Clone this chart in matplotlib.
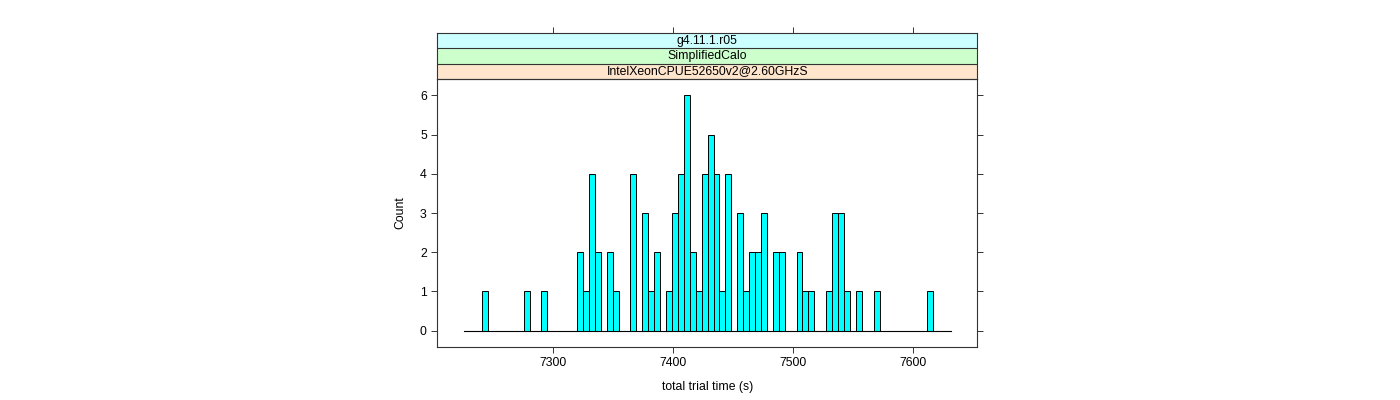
import matplotlib
matplotlib.use("Agg")
import matplotlib.pyplot as plt
import numpy as np

# histogram bins (seconds) and counts
bin_start = 7226.5
bin_width = 4.934
counts = [0, 0, 0, 1, 0, 0, 0, 0, 0, 0,
          1, 0, 0, 1, 0, 0, 0, 0, 0, 2,
          1, 4, 2, 0, 2, 1, 0, 0, 4, 0,
          3, 1, 2, 0, 1, 3, 4, 6, 2, 1,
          4, 5, 4, 1, 4, 0, 3, 1, 2, 2,
          3, 0, 2, 2, 0, 0, 2, 1, 1, 0,
          0, 1, 3, 3, 1, 0, 1, 0, 0, 1,
          0, 0, 0, 0, 0, 0, 0, 0, 1, 0,
          0, 0]
x_ticks = [7300, 7400, 7500, 7600]
y_ticks = [0, 1, 2, 3, 4, 5, 6]
strip_labels = ["IntelXeonCPUE52650v2@2.60GHzS", "SimplifiedCalo", "g4.11.1.r05"]
strip_colors = ["#FFE5CC", "#CCFFCC", "#CCFFFF"]

plt.rcParams["font.family"] = ["Liberation Sans", "DejaVu Sans"]
plt.rcParams["font.size"] = 8.8

edges = bin_start + bin_width * np.arange(len(counts) + 1)
xlim = (7203.9, 7653.2)

fig = plt.figure(figsize=(14, 4), dpi=100)
ax = fig.add_axes([0.3123, 0.1325, 0.3858, 0.67])

ax.bar(edges[:-1], counts, width=bin_width, align="edge",
       color="#00FFFF", edgecolor="black", linewidth=0.7)
ax.plot([edges[0], edges[-1]], [0, 0], color="black", lw=0.8)

ax.set_xlim(*xlim)
ax.set_ylim(-0.42, 6.42)
ax.set_xticks(x_ticks)
ax.set_yticks(y_ticks)
ax.tick_params(direction="out", length=4.5, width=0.7, color="#333333",
               right=True, left=True, bottom=True, top=False, pad=3)
for s in ax.spines.values():
    s.set_color("#333333")
    s.set_linewidth(0.8)
ax.set_xlabel("total trial time (s)", labelpad=8)
ax.set_ylabel("Count", labelpad=10)

# strips above the panel
sx = fig.add_axes([0.3123, 0.8025, 0.3858, 0.115], sharex=ax)
sx.set_ylim(0, len(strip_labels))
for i, (lab, col) in enumerate(zip(strip_labels, strip_colors)):
    sx.axhspan(i, i + 1, color=col, zorder=0)
    sx.axhline(i, color="#333333", lw=0.8)
    sx.text(np.mean(xlim), i + 0.5, lab, ha="center", va="center")
sx.tick_params(direction="out", length=4.5, width=0.7, color="#333333",
               top=True, bottom=False, left=False, labelbottom=False,
               labelleft=False, labeltop=False)
sx.set_yticks([])
for s in sx.spines.values():
    s.set_color("#333333")
    s.set_linewidth(0.8)

fig.savefig("out.png", dpi=100)
